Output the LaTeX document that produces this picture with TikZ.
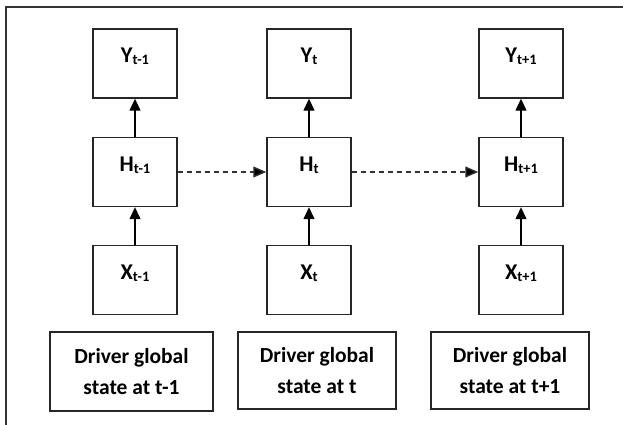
\documentclass[tikz,border=0pt]{standalone}
\usepackage{fontspec}
\setmainfont{Carlito}
\usetikzlibrary{arrows.meta}
\newcommand{\symb}[2]{#1\raisebox{-2.5pt}{\fontsize{14.5}{14.5}\selectfont #2}}
\begin{document}
\begin{tikzpicture}[x=1pt,y=-1pt,
  varbox/.style={draw=black!85,line width=1.4pt,minimum width=84pt,minimum height=69pt,inner sep=0pt,
    font=\bfseries\fontsize{22.5}{22.5}\selectfont,text height=14pt,text depth=16pt},
  drvbox/.style={draw=black!85,line width=1.4pt,inner sep=0pt,align=center,
    font=\bfseries\fontsize{21.5}{31}\selectfont},
  uparrow/.style={line width=1.3pt,-{Triangle[length=12pt,width=11pt]}},
  recarrow/.style={line width=1.3pt,dash pattern=on 5pt off 4pt,draw=black!80,-{Triangle[length=13pt,width=11pt,fill=black]}},
  frame/.style={line width=1.3pt,draw=black!80}]
\useasboundingbox (0,0) rectangle (623,425);
\coordinate (ftr) at (623,7);
\coordinate (ftl) at (6,7);
\coordinate (fbl) at (6,425);
\draw[frame] (ftr) -- (ftl) -- (fbl);
% column 1
\node[varbox] (y1) at (135,63.5) {\symb{Y}{t-1}};
\node[varbox] (h1) at (135,172) {\symb{H}{t-1}};
\node[varbox] (x1) at (135,280) {\symb{X}{t-1}};
% column 2
\node[varbox] (y2) at (309,63.5) {\symb{Y}{t}};
\node[varbox] (h2) at (309,172) {\symb{H}{t}};
\node[varbox] (x2) at (309,280) {\symb{X}{t}};
% column 3
\node[varbox] (y3) at (521,63.5) {\symb{Y}{t+1}};
\node[varbox] (h3) at (521,172) {\symb{H}{t+1}};
\node[varbox] (x3) at (521,280) {\symb{X}{t+1}};
% driver boxes
\node[drvbox,minimum width=163pt,minimum height=79pt] (d1) at (131.5,371.5) {Driver global\\state at t-1};
\node[drvbox,minimum width=158pt,minimum height=77pt] (d2) at (317,370.5) {Driver global\\state at t};
\node[drvbox,minimum width=158pt,minimum height=77pt] (d3) at (510,370.5) {Driver global\\state at t+1};
% arrows
\foreach \i in {1,2,3}{
  \draw[uparrow] (h\i.north) -- (y\i.south);
  \draw[uparrow] (x\i.north) -- (h\i.south);
}
\draw[recarrow] (h1.east) -- (h2.west);
\draw[recarrow] (h2.east) -- (h3.west);
\end{tikzpicture}
\end{document}
